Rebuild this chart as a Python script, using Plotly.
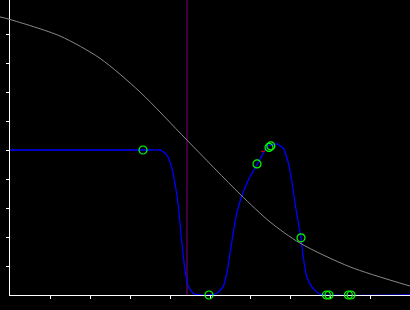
import plotly.graph_objects as go

# Gray reference curve (decreasing)
gray_x = [-0.25, 0.0, 1.25, 2.25, 3.25, 4.425, 5.75, 6.5, 7.25, 8.5, 10.0]
gray_y = [0.959, 0.950, 0.893, 0.816, 0.700, 0.534, 0.348, 0.252, 0.179, 0.097, 0.031]

# Blue response curve
blue_x = [0.0, 3.5, 3.75, 3.79, 3.92, 4.04, 4.125, 4.21, 4.29, 4.375, 4.46, 4.58, 4.75,
          5.0, 5.17, 5.33, 5.42, 5.5, 5.58, 5.67, 5.79, 5.92, 6.0, 6.18, 6.33, 6.46,
          6.54, 6.67, 6.83, 6.96, 7.04, 7.125, 7.21, 7.27, 7.33, 7.42, 7.54, 7.71,
          7.875, 10.0]
blue_y = [0.5, 0.5, 0.5, 0.4976, 0.483, 0.442, 0.385, 0.305, 0.190, 0.086, 0.029, 0.006, 0.0,
          0.0, 0.006, 0.029, 0.075, 0.144, 0.213, 0.282, 0.339, 0.385, 0.408, 0.451, 0.489, 0.516,
          0.517, 0.521, 0.506, 0.454, 0.397, 0.317, 0.248, 0.201, 0.132, 0.063, 0.029, 0.006,
          0.0, 0.0]

# Green sample markers
mark_x = [3.325, 4.975, 6.175, 6.475, 6.52, 7.275, 7.91, 7.975, 8.46, 8.525]
mark_y = [0.5, 0.0, 0.452, 0.509, 0.514, 0.197, 0.0, 0.0, 0.0, 0.0]

# Small red mark
red_x = [6.275, 6.375]
red_y = [0.4955, 0.4955]

# Vertical threshold line
threshold_x = 4.425

x_ticks = [1, 2, 3, 4, 5, 6, 7, 8, 9]
y_ticks = [0.1, 0.2, 0.3, 0.4, 0.5, 0.6, 0.7, 0.8, 0.9]

W, H = 410, 310
L, B = 10, 15
x_range = [0, 10]
y_range = [0, 295 / 290]
# overlay axes covering the whole figure with the same scale
x2_range = [-L / 40, 10]
y2_range = [-B / 290, 295 / 290]

fig = go.Figure()
fig.add_trace(go.Scatter(x=gray_x, y=gray_y, mode="lines", xaxis="x2", yaxis="y2",
                         line=dict(color="#8a8a8a", width=1, shape="spline", smoothing=0.8),
                         hoverinfo="skip", showlegend=False))
fig.add_trace(go.Scatter(x=blue_x, y=blue_y, mode="lines", cliponaxis=False,
                         line=dict(color="#0000ff", width=1.3, shape="spline", smoothing=0.5),
                         showlegend=False))
fig.add_trace(go.Scatter(x=red_x, y=red_y, mode="lines", cliponaxis=False,
                         line=dict(color="#cc0000", width=1.2), showlegend=False))
fig.add_trace(go.Scatter(x=mark_x, y=mark_y, mode="markers", cliponaxis=False,
                         marker=dict(symbol="circle-open", size=8, color="#00ff00",
                                     line=dict(color="#00ff00", width=1.2)),
                         showlegend=False))

fig.add_shape(type="line", xref="x", yref="y domain", x0=threshold_x, x1=threshold_x,
              y0=0, y1=1, line=dict(color="#800080", width=1), layer="below")

axis_common = dict(showgrid=False, zeroline=False, showticklabels=False,
                   showline=True, linecolor="white", linewidth=1.2,
                   ticks="outside", ticklen=3, tickcolor="white", tickwidth=1,
                   layer="below traces")

fig.update_layout(
    width=W, height=H,
    margin=dict(l=0, r=0, t=0, b=0),
    paper_bgcolor="black", plot_bgcolor="rgba(0,0,0,0)",
    xaxis=dict(domain=[L / W, 1], range=x_range, tickmode="array", tickvals=x_ticks,
               anchor="y", **axis_common),
    yaxis=dict(domain=[B / H, 1], range=y_range, tickmode="array", tickvals=y_ticks,
               anchor="x", **axis_common),
    xaxis2=dict(domain=[0, 1], range=x2_range, visible=False, anchor="y2"),
    yaxis2=dict(domain=[0, 1], range=y2_range, visible=False, anchor="x2"),
    showlegend=False,
)

fig.write_html("out.html")
